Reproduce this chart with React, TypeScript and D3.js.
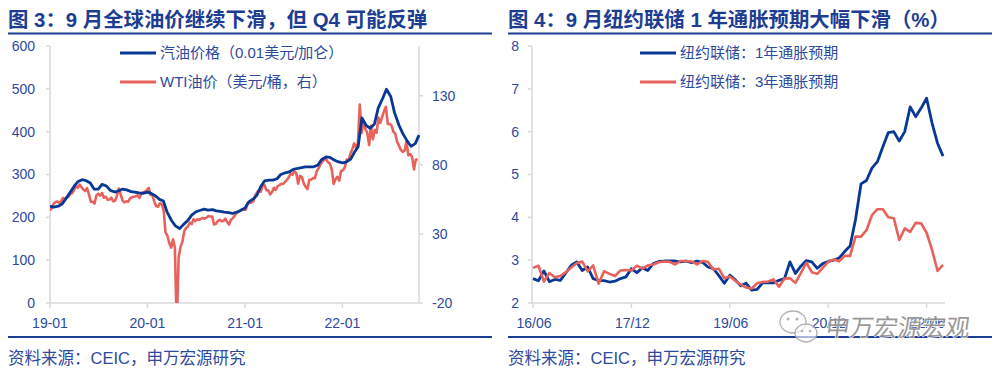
import React from "react";
import * as d3 from "d3";

// ---- Figure 3: gasoline vs WTI ----
// gasoline, semi-monthly readings (1st and 15th of each month) from 2019-01
const gasStartMonth = "2019-01";
const gasPrice = [
  226, 224, 226, 231, 243, 256, 272, 283, 288, 286, 280, 266, 266, 277, 273, 263, 259, 262, 266, 264, 260, 259, 257, 256,
  259, 256, 250, 242, 238, 212, 192, 180, 174, 183, 193, 205, 213, 216, 219, 217, 218, 215, 214, 212, 211, 209, 212, 216,
  222, 236, 243, 252, 272, 285, 287, 287, 290, 300, 304, 306, 312, 314, 316, 318, 318, 318, 322, 335, 341, 340, 334, 330,
  327, 329, 336, 352, 365, 432, 414, 408, 418, 455, 478, 499, 482, 445, 415, 396, 378, 366, 372, 392,
];
// WTI, weekly (Mondays) from 2018-12-31
const wtiStart = "2018-12-31";
const wtiPrice = [
  47.0, 48.5, 51.5, 53.0, 53.5, 52.6, 53.4, 56.0, 55.5, 56.6, 56.8, 59.0, 59.4, 61.6, 64.4, 63.4, 65.7, 63.9, 62.2, 61.0,
  63.1, 58.6, 53.3, 53.3, 52.0, 57.9, 59.1, 57.7, 59.6, 56.2, 56.9, 54.7, 54.9, 56.2, 53.6, 54.0, 57.9, 62.9, 58.6, 54.1,
  52.8, 53.6, 53.3, 55.8, 56.5, 56.9, 57.1, 58.0, 56.0, 59.0, 60.2, 60.5, 61.7,
  63.3, 58.1, 58.3, 53.1, 50.1, 49.6, 52.2, 51.4, 46.8, 31.1, 28.7, 23.4, 20.1, 26.1, 20.1, -37.6, 12.8, 20.4, 24.1, 31.8,
  34.4, 35.4, 38.2, 37.1, 40.7, 39.3, 40.6, 40.1, 41.0, 41.6, 41.0, 41.9, 42.9, 42.6, 42.6, 36.8, 37.3, 39.3, 40.2, 39.2,
  39.4, 41.0, 38.6, 36.8, 40.3, 41.3, 43.1, 45.3, 45.8, 46.9, 47.7, 47.6,
  47.6, 52.3, 52.4, 52.8, 53.6, 57.9, 60.1, 61.7, 60.6, 65.1, 65.4, 61.6, 61.6, 58.6, 60.2, 63.4, 61.9, 64.5, 65.3, 66.3,
  66.1, 67.7, 69.2, 70.9, 73.7, 72.9, 75.2, 74.1, 66.4, 71.9, 71.3, 66.5, 64.0, 62.5, 69.2, 69.3, 70.5, 70.3, 75.5, 77.6,
  80.5, 82.4, 83.8, 84.1, 81.9, 80.9, 76.8, 66.2, 69.5, 71.3, 68.6, 75.6,
  76.1, 78.2, 83.8, 83.3, 88.2, 91.3, 95.5, 92.1, 95.7, 123.7, 103.0, 112.1, 105.9, 103.3, 94.3, 108.2, 98.5, 105.2, 103.1,
  114.2, 110.3, 114.7, 119.0, 122.0, 109.5, 109.6, 108.4, 104.1, 102.6, 96.7, 93.9, 90.8, 89.4, 90.2, 97.0, 86.9, 87.8,
  85.7, 76.7, 83.6, 84.0,
];
const oilLeftTicks = [0, 100, 200, 300, 400, 500, 600];
const oilRightTicks = [-20, 30, 80, 130];
const oilXTicks = ["2019-01-01", "2020-01-01", "2021-01-01", "2022-01-01"];
const oilXLabels = ["19-01", "20-01", "21-01", "22-01"];

// ---- Figure 4: NY Fed inflation expectations, monthly from 2016-06 ----
const nyStartMonth = "2016-06";
const oneYear = [
  2.57, 2.52, 2.75, 2.5, 2.55, 2.53, 2.7, 2.88, 2.96, 2.76, 2.84, 2.57, 2.53, 2.52, 2.49, 2.51, 2.57, 2.61, 2.8, 2.71,
  2.82, 2.76, 2.92, 2.97, 2.98, 2.98, 2.98, 2.96, 2.98, 2.94, 2.98, 2.95, 2.84, 2.8, 2.64, 2.46, 2.65, 2.54, 2.4, 2.46,
  2.3, 2.32, 2.47, 2.47, 2.47, 2.53, 2.57, 2.96, 2.69, 2.86, 2.99, 2.96, 2.81, 2.92, 2.97, 3.0, 3.05, 3.2, 3.33, 3.95,
  4.78, 4.86, 5.15, 5.3, 5.65, 5.98, 6.0, 5.78, 6.0, 6.58, 6.35, 6.55, 6.78, 6.2, 5.73, 5.43,
];
const threeYear = [
  2.82, 2.87, 2.5, 2.7, 2.6, 2.63, 2.72, 2.83, 2.93, 2.97, 2.74, 2.88, 2.45, 2.74, 2.68, 2.63, 2.76, 2.77, 2.76, 2.87,
  2.8, 2.88, 2.9, 2.95, 2.97, 2.96, 2.9, 2.98, 2.98, 2.97, 2.9, 2.98, 2.96, 2.78, 2.8, 2.58, 2.62, 2.52, 2.43, 2.36,
  2.34, 2.46, 2.49, 2.5, 2.55, 2.38, 2.57, 2.58, 2.47, 2.7, 2.94, 2.72, 2.68, 2.82, 2.96, 3.02, 2.97, 3.1, 3.1, 3.55,
  3.55, 3.7, 4.05, 4.19, 4.19, 4.0, 3.98, 3.47, 3.74, 3.66, 3.87, 3.86, 3.64, 3.24, 2.75, 2.89,
];
const nyYTicks = [2, 3, 4, 5, 6, 7, 8];
const nyXTickIndex = [0, 18, 36, 54, 72];
const nyXLabels = ["16/06", "17/12", "19/06", "20/12", "22/06"];

const FONT = "'Liberation Sans', Arial, 'Noto Sans CJK SC', sans-serif";
const NAVY = "#063894";
const RED = "#E8625C";
const TEXT = "#2D4A9E";
const TITLE = "#1D3D92";
const AXIS = "#d9d9d9";

const parseDay = d3.timeParse("%Y-%m-%d");
const parseMonth = d3.timeParse("%Y-%m");

function Frame({ x0, title }: { x0: number; title: string }) {
  return (
    <g>
      <text x={x0 + 8} y={27} fontFamily={FONT} fontWeight={700} fontSize={20.4} fill={TITLE}>
        {title}
      </text>
      <line x1={x0 + 8} x2={x0 + 492} y1={33.5} y2={33.5} stroke={TITLE} strokeWidth={2} />
      <line x1={x0 + 8} x2={x0 + 492} y1={337} y2={337} stroke={TITLE} strokeWidth={2} />
      <text x={x0 + 8} y={364} fontFamily={FONT} fontSize={16.5} fill={TEXT}>
        资料来源：CEIC，申万宏源研究
      </text>
    </g>
  );
}

function Legend({ x, items }: { x: number; items: { label: string; color: string }[] }) {
  return (
    <g>
      {items.map((it, i) => (
        <g key={it.label} transform={`translate(${x},${53 + i * 29})`}>
          <line x1={0} x2={36} y1={0} y2={0} stroke={it.color} strokeWidth={3} />
          <text x={40} y={5} fontFamily={FONT} fontSize={15} fill={TEXT}>
            {it.label}
          </text>
        </g>
      ))}
    </g>
  );
}

function OilChart() {
  const left = 50, right = 419, top = 46, bottom = 303;
  const x = d3.scaleTime().domain([parseDay("2019-01-01")!, parseDay("2022-10-15")!]).range([left, right]);
  const yL = d3.scaleLinear().domain([0, 600]).range([bottom, top]);
  const yR = d3.scaleLinear().domain([-20, 166]).range([bottom, top]);

  const m0 = parseMonth(gasStartMonth)!;
  const gas = gasPrice.map((v, k) => {
    const d = d3.timeMonth.offset(m0, Math.floor(k / 2));
    return { d: k % 2 ? d3.timeDay.offset(d, 14) : d, v };
  });
  const w0 = parseDay(wtiStart)!;
  const wti = wtiPrice.map((v, k) => ({ d: d3.timeDay.offset(w0, 7 * k), v }));

  const gasLine = d3.line<{ d: Date; v: number }>().x((p) => x(p.d)).y((p) => yL(p.v));
  const wtiLine = d3.line<{ d: Date; v: number }>().x((p) => x(p.d)).y((p) => yR(p.v));

  return (
    <g>
      <Frame x0={0} title="图 3：9 月全球油价继续下滑，但 Q4 可能反弹" />
      <defs>
        <clipPath id="oil-clip">
          <rect x={left} y={top - 5} width={right - left + 2} height={bottom - top + 5} />
        </clipPath>
      </defs>
      {/* axes */}
      <line x1={left} x2={left} y1={top} y2={bottom} stroke={AXIS} strokeWidth={1.5} />
      <line x1={right} x2={right} y1={top} y2={bottom} stroke={AXIS} strokeWidth={1.5} />
      <line x1={left} x2={right} y1={bottom} y2={bottom} stroke={AXIS} strokeWidth={1.5} />
      {oilLeftTicks.map((t) => (
        <g key={t}>
          <line x1={left - 4} x2={left} y1={yL(t)} y2={yL(t)} stroke={AXIS} strokeWidth={1.5} />
          <text x={35} y={yL(t)} dy="0.35em" textAnchor="end" fontFamily={FONT} fontSize={14} fill={TEXT}>
            {t}
          </text>
        </g>
      ))}
      {oilRightTicks.map((t) => (
        <g key={t}>
          <line x1={right} x2={right + 4} y1={yR(t)} y2={yR(t)} stroke={AXIS} strokeWidth={1.5} />
          <text x={432} y={yR(t)} dy="0.35em" fontFamily={FONT} fontSize={14} fill={TEXT}>
            {t}
          </text>
        </g>
      ))}
      {oilXTicks.map((t, i) => {
        const px = x(parseDay(t)!);
        return (
          <g key={t}>
            <line x1={px} x2={px} y1={bottom} y2={bottom + 5} stroke={AXIS} strokeWidth={1.5} />
            <text x={px} y={328} textAnchor="middle" fontFamily={FONT} fontSize={14} fill={TEXT}>
              {oilXLabels[i]}
            </text>
          </g>
        );
      })}
      <g clipPath="url(#oil-clip)" fill="none" strokeLinejoin="round">
        <path d={wtiLine(wti)!} stroke={RED} strokeWidth={2.6} />
        <path d={gasLine(gas)!} stroke={NAVY} strokeWidth={2.8} />
      </g>
      <Legend
        x={120}
        items={[
          { label: "汽油价格（0.01美元/加仑）", color: NAVY },
          { label: "WTI油价（美元/桶，右）", color: RED },
        ]}
      />
    </g>
  );
}

function InflationChart() {
  const left = 532, right = 945, top = 46, bottom = 303;
  const x = d3.scaleLinear().domain([0, oneYear.length - 1]).range([533, 943]);
  const y = d3.scaleLinear().domain([2, 8]).range([bottom, top]);
  const line = d3.line<number>().x((_, i) => x(i)).y((v) => y(v));
  const m0 = parseMonth(nyStartMonth)!;
  const fmt = d3.timeFormat("%y/%m");

  return (
    <g>
      <Frame x0={500} title="图 4：9 月纽约联储 1 年通胀预期大幅下滑（%）" />
      <line x1={left} x2={left} y1={top} y2={bottom} stroke={AXIS} strokeWidth={1.5} />
      <line x1={left} x2={right} y1={bottom} y2={bottom} stroke={AXIS} strokeWidth={1.5} />
      {nyYTicks.map((t) => (
        <g key={t}>
          <line x1={left - 4} x2={left} y1={y(t)} y2={y(t)} stroke={AXIS} strokeWidth={1.5} />
          <text x={519} y={y(t)} dy="0.35em" textAnchor="end" fontFamily={FONT} fontSize={14} fill={TEXT}>
            {t}
          </text>
        </g>
      ))}
      {nyXTickIndex.map((i, k) => (
        <g key={i} data-month={fmt(d3.timeMonth.offset(m0, i))}>
          <line x1={x(i)} x2={x(i)} y1={bottom} y2={bottom + 5} stroke={AXIS} strokeWidth={1.5} />
          <text x={x(i) + 1} y={328} textAnchor="middle" fontFamily={FONT} fontSize={14} fill={TEXT}>
            {nyXLabels[k]}
          </text>
        </g>
      ))}
      <g fill="none" strokeLinejoin="round">
        <path d={line(oneYear)!} stroke={NAVY} strokeWidth={2.8} />
        <path d={line(threeYear)!} stroke={RED} strokeWidth={2.6} />
      </g>
      <Legend
        x={640}
        items={[
          { label: "纽约联储：1年通胀预期", color: NAVY },
          { label: "纽约联储：3年通胀预期", color: RED },
        ]}
      />
      {/* watermark */}
      <g opacity={0.9}>
        <ellipse cx={793} cy={322} rx={13} ry={11} fill="#fff" fillOpacity={0.7} stroke="#aaa" strokeWidth={1.3} />
        <ellipse cx={806} cy={333} rx={11} ry={9} fill="#fff" fillOpacity={0.7} stroke="#aaa" strokeWidth={1.3} />
        <circle cx={788} cy={319} r={1.5} fill="#aaa" />
        <circle cx={797} cy={319} r={1.5} fill="#aaa" />
        <circle cx={802} cy={331} r={1.3} fill="#aaa" />
        <circle cx={810} cy={331} r={1.3} fill="#aaa" />
        <text
          x={826}
          y={336}
          fontFamily="'Noto Sans CJK SC', sans-serif"
          fontSize={24}
          fill="#8f8f8f"
          stroke="#fff"
          strokeWidth={1.2}
          paintOrder="stroke"
          transform="skewX(-8) translate(46,0)"
        >
          申万宏源宏观
        </text>
      </g>
    </g>
  );
}

export default function App() {
  return (
    <svg
      width={1000}
      height={372}
      viewBox="0 0 1000 372"
      style={{ position: "absolute", left: 0, top: 0, background: "#fff" }}
    >
      <rect width={1000} height={372} fill="#fff" />
      <OilChart />
      <InflationChart />
    </svg>
  );
}
